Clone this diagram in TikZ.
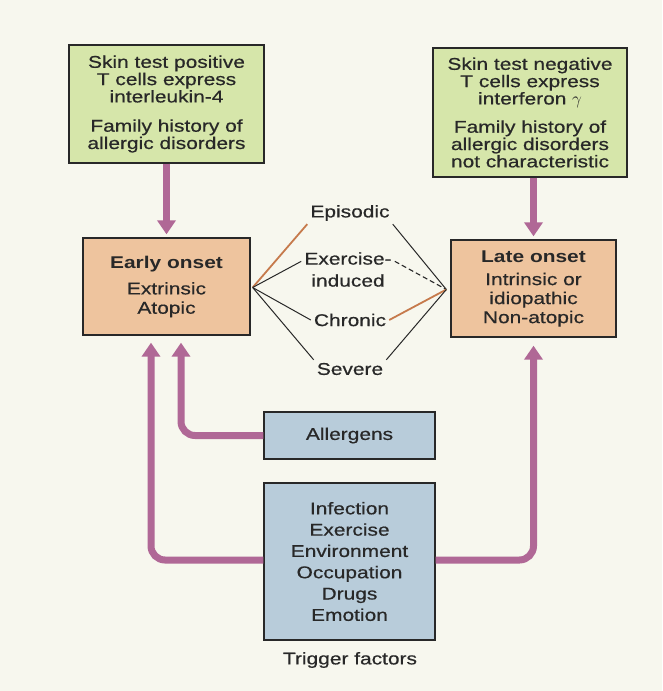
\documentclass[tikz,border=0pt]{standalone}
\usepackage{fontspec}
\setmainfont{Liberation Sans}[FakeStretch=1.23, UprightFeatures={FakeBold=0.6}]
\usetikzlibrary{arrows.meta,calc}
\definecolor{bgc}{RGB}{247,247,238}
\definecolor{greenf}{RGB}{214,230,170}
\definecolor{peach}{RGB}{238,196,158}
\definecolor{bluef}{RGB}{184,204,218}
\definecolor{plum}{RGB}{176,104,150}
\definecolor{rust}{RGB}{198,122,76}
\definecolor{ink}{RGB}{40,40,40}
\begin{document}
\begin{tikzpicture}[x=1pt,y=-1pt,
  box/.style={draw=ink, line width=1.3pt, align=center, text=ink, inner sep=0pt, font=\fontsize{17}{17.3}\selectfont},
  lbl/.style={text=ink, align=center, inner sep=3pt, font=\fontsize{17}{22}\selectfont},
  parrow/.style={draw=plum, line width=7pt, -{Triangle[width=18pt,length=14pt]}},
  fan/.style={draw=ink, line width=1pt},
  ofan/.style={draw=rust, line width=1.8pt}]
\fill[bgc] (0,0) rectangle (662,691);
\useasboundingbox (0,0) rectangle (662,691);

\node[box, fill=greenf, minimum width=195pt, minimum height=118pt] (topL) at (166.5,104)
  {Skin test positive\\T cells express\\interleukin-4\\[12pt]Family history of\\allergic disorders};
\node[box, fill=greenf, minimum width=194pt, minimum height=129pt] (topR) at (530,112.5)
  {Skin test negative\\T cells express\\interferon $\gamma$\\[11pt]Family history of\\allergic disorders\\not characteristic};
\node[box, fill=peach, minimum width=167pt, minimum height=97pt] (early) at (166.5,286.5)
  {\textbf{Early onset}\\[9pt]Extrinsic\\[2pt]Atopic};
\node[box, fill=peach, minimum width=165pt, minimum height=97pt, font=\fontsize{17}{19}\selectfont] (late) at (533.5,288.5)
  {\textbf{Late onset}\\[4pt]Intrinsic or\\idiopathic\\Non-atopic};
\node[box, fill=bluef, minimum width=171pt, minimum height=47pt] (allergens) at (349.5,435.5) {Allergens};
\node[box, fill=bluef, minimum width=171pt, minimum height=157pt, font=\fontsize{17}{21.3}\selectfont] (trigger) at (349.5,561.5)
  {Infection\\Exercise\\Environment\\Occupation\\Drugs\\Emotion};
\node[lbl] (tf) at (350,660) {Trigger factors};

\node[lbl] (epi) at (350,213) {Episodic};
\node[lbl] (exer) at (348,269.5) {Exercise-\\induced};
\node[lbl] (chr) at (350,320) {Chronic};
\node[lbl] (sev) at (350,369) {Severe};

\coordinate (fL) at ([xshift=2pt,yshift=-1pt]early.east);
\coordinate (fR) at ([xshift=-4pt,yshift=-1pt]late.west);

\draw[ofan] (fL) -- (epi.south west);
\draw[fan] (fL) -- ($(exer.north west)!0.3!(exer.south west)$);
\draw[fan] (fL) -- (chr.west);
\draw[fan] (fL) -- (sev.north west);
\draw[fan] (epi.south east) -- (fR);
\draw[fan, line width=1.1pt, dash pattern=on 5pt off 3pt] ($(exer.north east)!0.3!(exer.south east)$) -- (fR);
\draw[ofan] (chr.east) -- (fR);
\draw[fan] (sev.north east) -- (fR);

\draw[parrow, shorten >=3pt] (topL.south) -- (early.north);
\draw[parrow, shorten >=3pt] (late.north |- topR.south) -- (late.north);
\draw[parrow, rounded corners=14pt, shorten >=7pt] (allergens.west) -| ([xshift=14.5pt]early.south);
\draw[parrow, rounded corners=14pt, shorten >=7pt] ([yshift=1.5pt]trigger.west) -| ([xshift=-15.5pt]early.south);
\draw[parrow, rounded corners=14pt, shorten >=8pt] ([yshift=1.5pt]trigger.east) -| (late.south);
\end{tikzpicture}
\end{document}
